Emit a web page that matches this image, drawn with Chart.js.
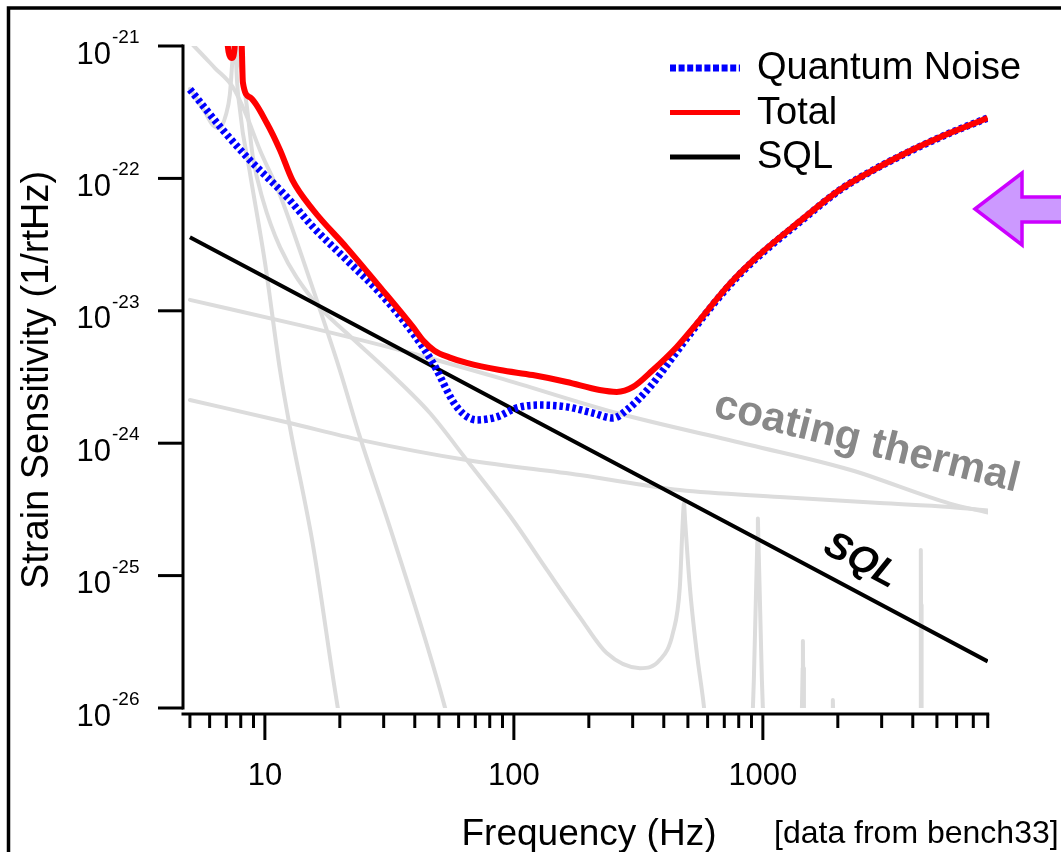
<!DOCTYPE html>
<html>
<head>
<meta charset="utf-8">
<script src="https://cdn.jsdelivr.net/npm/chart.js@4/dist/chart.umd.min.js"></script>
<style>
html,body{margin:0;padding:0;background:#fff;}
#wrap{width:1061px;height:852px;position:relative;overflow:hidden;}
canvas{display:block;}
</style>
</head>
<body>
<div id="wrap"><canvas id="c" width="1061" height="852"></canvas></div>
<script>
// ---------------- data (frequency in Hz, strain in 1/rtHz) ----------------
const quantumFreq  = [5.0, 6.78, 8.47, 12.25, 15.6, 21.3, 29.0, 39.3, 47.3, 59.0, 71.0, 85.5, 102.8, 127, 163, 208, 250, 284, 352, 435, 524, 737, 946, 1408, 2038, 2692, 3788, 5636, 8000];
const quantumNoise = [4.7e-22, 2.32e-22, 1.45e-22, 7.24e-23, 4.3e-23, 2.42e-23, 1.36e-23, 6.8e-24, 4.04e-24, 1.88e-24, 1.5e-24, 1.58e-24, 1.85e-24, 1.94e-24, 1.88e-24, 1.69e-24, 1.55e-24, 1.78e-24, 2.66e-24, 4.48e-24, 7.16e-24, 1.57e-23, 2.51e-23, 4.69e-23, 8.17e-23, 1.12e-22, 1.56e-22, 2.2e-22, 2.86e-22];

const totalFreq  = [6.95, 7.15, 7.36, 7.55, 7.7, 7.95, 8.09, 8.16, 8.71, 10.2, 11.5, 12.9, 15.6, 21.3, 29.0, 39.3, 43.4, 48.0, 55.0, 64.7, 87.9, 119, 163, 221, 259, 301, 362, 451, 524, 737, 946, 1408, 2038, 2692, 3788, 5636, 8000];
const totalNoise = [1.5e-21, 9.0e-22, 8.1e-22, 9.5e-22, 2.5e-21, 2.5e-21, 8.9e-22, 5.3e-22, 4.1e-22, 2.6e-22, 1.64e-22, 9.7e-23, 5.8e-23, 3.0e-23, 1.51e-23, 7.55e-24, 5.9e-24, 5.0e-24, 4.45e-24, 4.04e-24, 3.57e-24, 3.27e-24, 2.9e-24, 2.52e-24, 2.44e-24, 2.66e-24, 3.57e-24, 5.33e-24, 7.4e-24, 1.6e-23, 2.55e-23, 4.75e-23, 8.2e-23, 1.12e-22, 1.57e-22, 2.2e-22, 2.86e-22];

const sqlFreq  = [5, 10, 100, 1000, 8000];
const sqlNoise = [3.6e-23, 1.8e-23, 1.8e-24, 1.8e-25, 2.25e-26];

const seismicFreq  = [5.0, 5.74, 6.18, 6.59, 6.97, 7.23, 7.36, 7.47, 7.55, 7.65, 7.94, 8.71, 10.0, 11.5, 12.6, 15.6, 19.6, 20.2];
const seismicNoise = [4.75e-22, 3.18e-22, 2.53e-22, 2.4e-22, 3.01e-22, 4.26e-22, 6.6e-22, 1.1e-21, 3e-21, 8.55e-22, 3.29e-22, 1.1e-22, 2.34e-23, 3.57e-24, 1.33e-24, 1.7e-25, 1.02e-26, 7.5e-27];

const newtonianFreq  = [5.0, 5.19, 6.30, 7.43, 8.32, 9.55, 11.5, 14.7, 20.0, 24.1, 32.7, 52.8, 54.5];
const newtonianNoise = [1.07e-21, 1.0e-21, 6.82e-22, 4.9e-22, 3.18e-22, 1.64e-22, 7.5e-23, 2.03e-23, 3.57e-24, 1.11e-24, 1.96e-25, 1.02e-26, 8e-27];

const suspFreq  = [7.6, 7.79, 8.09, 8.47, 8.95, 9.82, 11.5, 15.6, 21.3, 30.9, 46.0, 64.7, 99.1, 136, 184, 236, 321, 386, 435, 464, 477, 482, 487, 509, 543, 580, 601];
const suspNoise = [1.3e-21, 8.26e-22, 6.25e-22, 3.46e-22, 1.45e-22, 6.87e-23, 3.03e-23, 1.21e-23, 6.79e-24, 3.57e-24, 1.69e-24, 7.46e-25, 2.63e-25, 1.1e-25, 4.86e-26, 2.6e-26, 2.0e-26, 2.31e-26, 3.68e-26, 8.2e-26, 2.63e-25, 3.53e-25, 2.63e-25, 8.2e-26, 2.6e-26, 1.02e-26, 5e-27];

const coatingFreq  = [5.0, 13.8, 34.8, 87.9, 259, 887, 2234, 5636, 7943];
const coatingNoise = [1.21e-23, 7.8e-24, 5.06e-24, 3.1e-24, 1.69e-24, 9.7e-25, 6.3e-25, 3.5e-25, 3.0e-25];

const substrateFreq  = [5.0, 12.6, 24.1, 64.7, 184, 464, 1169, 2951, 5636, 8017];
const substrateNoise = [2.12e-24, 1.42e-24, 1.06e-24, 7.46e-25, 5.75e-25, 4.43e-25, 3.93e-25, 3.53e-25, 3.3e-25, 3.1e-25];

const mode1Freq  = [880, 912, 920, 937, 950, 955, 960, 973, 991, 1000, 1040];
const mode1Noise = [5e-27, 1e-26, 1.63e-26, 6.5e-26, 1.8e-25, 2.7e-25, 1.8e-25, 6.5e-26, 1.63e-26, 1e-26, 5e-27];
const mode2Freq  = [1420, 1435, 1445, 1448, 1451, 1462, 1475];
const mode2Noise = [8e-27, 1e-26, 2e-26, 3.2e-26, 2e-26, 1e-26, 8e-27];
const mode3Freq  = [1900, 1910, 1920];
const mode3Noise = [8e-27, 1.15e-26, 8e-27];
const mode4Freq  = [4280, 4300, 4312, 4315, 4318, 4330, 4350];
const mode4Noise = [5e-27, 1e-26, 6e-26, 1.56e-25, 6e-26, 1e-26, 5e-27];

// ticks
const xMajorTicks = [10, 100, 1000];
const xMinorTicks = [5, 6, 7, 8, 9, 20, 30, 40, 50, 60, 70, 80, 90, 200, 300, 400, 500, 600, 700, 800, 900, 2000, 3000, 4000, 5000, 6000, 7000, 8000];
const yTicks = [1e-21, 1e-22, 1e-23, 1e-24, 1e-25, 1e-26];

// texts
const xTitle = 'Frequency (Hz)';
const yTitle = 'Strain Sensitivity (1/rtHz)';
const sourceNote = '[data from bench33]';
const coatingLabel = 'coating thermal';
const sqlLabel = 'SQL';

// ---------------------------------------------------------------------------
const FONT = '"Liberation Sans", Arial, Helvetica, sans-serif';
const GRAY = '#dcdcdc';

function pts(f, v) { return f.map((x, i) => ({ x: x, y: v[i] })); }
function grayDs(label, f, v, smooth) {
  return { label: label, data: pts(f, v), borderColor: GRAY, borderWidth: 4,
    pointRadius: 0, cubicInterpolationMode: smooth ? 'monotone' : 'default', tension: 0,
    borderCapStyle: 'round', borderJoinStyle: 'round', order: 5, legend: false };
}

const datasets = [
  { label: 'Total', data: pts(totalFreq, totalNoise), borderColor: '#ff0000', borderWidth: 6,
    pointRadius: 0, cubicInterpolationMode: 'monotone', order: 0, legend: true, legendIndex: 1 },
  { label: 'Quantum Noise', data: pts(quantumFreq, quantumNoise), borderColor: '#0000ff', borderWidth: 7.5,
    borderDash: [3.5, 3], pointRadius: 0, cubicInterpolationMode: 'monotone', order: 1, legend: true, legendIndex: 0 },
  { label: 'SQL', data: pts(sqlFreq, sqlNoise), borderColor: '#000000', borderWidth: 4,
    pointRadius: 0, tension: 0, order: 2, legend: true, legendIndex: 2 },
  grayDs('seismic', seismicFreq, seismicNoise, true),
  grayDs('newtonian', newtonianFreq, newtonianNoise, true),
  grayDs('suspension thermal', suspFreq, suspNoise, true),
  grayDs('coating thermal', coatingFreq, coatingNoise, true),
  grayDs('substrate', substrateFreq, substrateNoise, true),
  grayDs('mode 1', mode1Freq, mode1Noise, false),
  grayDs('mode 2', mode2Freq, mode2Noise, false),
  grayDs('mode 3', mode3Freq, mode3Noise, false),
  grayDs('mode 4', mode4Freq, mode4Noise, false)
];

const decor = {
  id: 'decor',
  beforeDraw(chart) {
    const ctx = chart.ctx;
    ctx.save();
    ctx.fillStyle = '#ffffff';
    ctx.fillRect(0, 0, chart.width, chart.height);
    ctx.restore();
  },
  afterDraw(chart) {
    const ctx = chart.ctx;
    const xs = chart.scales.x, ys = chart.scales.y, ca = chart.chartArea;
    ctx.save();
    // outer frame
    ctx.strokeStyle = '#000'; ctx.lineWidth = 3.5;
    ctx.strokeRect(8.5, 8, 1200, 1000);

    // y axis
    ctx.lineWidth = 3; ctx.lineCap = 'butt';
    const yTop = ys.getPixelForValue(yTicks[0]);
    const yBot = ys.getPixelForValue(yTicks[yTicks.length - 1]);
    ctx.beginPath(); ctx.moveTo(ca.left, yTop - 1.5); ctx.lineTo(ca.left, yBot + 1.5); ctx.stroke();
    ctx.fillStyle = '#000';
    yTicks.forEach(v => {
      const py = ys.getPixelForValue(v);
      ctx.beginPath(); ctx.moveTo(ca.left - 25, py); ctx.lineTo(ca.left, py); ctx.stroke();
      ctx.font = '31px ' + FONT; ctx.textAlign = 'right'; ctx.textBaseline = 'alphabetic';
      ctx.fillText('10', 111, py + 17.5);
      ctx.font = '19px ' + FONT; ctx.textAlign = 'left';
      ctx.fillText(String(Math.round(Math.log10(v))), 112, py - 3);
    });

    // x axis
    const axY = ca.bottom + 6;
    const xEnd = xs.getPixelForValue(xMinorTicks[xMinorTicks.length - 1]);
    ctx.beginPath(); ctx.moveTo(ca.left - 1.5, axY); ctx.lineTo(xEnd + 1.5, axY); ctx.stroke();
    xMinorTicks.forEach(v => {
      const px = xs.getPixelForValue(v);
      ctx.beginPath(); ctx.moveTo(px, axY); ctx.lineTo(px, axY + 14); ctx.stroke();
    });
    ctx.font = '31px ' + FONT; ctx.textAlign = 'center'; ctx.textBaseline = 'alphabetic';
    xMajorTicks.forEach(v => {
      const px = xs.getPixelForValue(v);
      ctx.beginPath(); ctx.moveTo(px, axY); ctx.lineTo(px, axY + 26); ctx.stroke();
      ctx.fillText(String(v), px, 785);
    });

    // titles
    ctx.font = '37px ' + FONT; ctx.textAlign = 'center';
    ctx.fillText(xTitle, 589, 845);
    ctx.save();
    ctx.font = '38px ' + FONT;
    ctx.translate(48, 380); ctx.rotate(-Math.PI / 2);
    ctx.fillText(yTitle, 0, 0);
    ctx.restore();
    ctx.font = '32px ' + FONT; ctx.textAlign = 'left';
    ctx.fillText(sourceNote, 774, 843);

    // annotations
    ctx.save();
    ctx.fillStyle = '#888888'; ctx.font = 'bold 42px ' + FONT; ctx.textAlign = 'center';
    ctx.translate(864, 454); ctx.rotate(14 * Math.PI / 180);
    ctx.fillText(coatingLabel, 0, 0);
    ctx.restore();
    ctx.save();
    ctx.fillStyle = '#000'; ctx.font = 'italic bold 38px ' + FONT; ctx.textAlign = 'center'; ctx.textBaseline = 'middle';
    ctx.translate(861, 561); ctx.rotate(28 * Math.PI / 180);
    ctx.fillText(sqlLabel, 0, 0);
    ctx.restore();

    // legend
    const items = chart.data.datasets.filter(d => d.legend).sort((a, b) => a.legendIndex - b.legendIndex);
    items.forEach((d, i) => {
      const ly = 68 + i * 44.5;
      ctx.save();
      ctx.strokeStyle = d.borderColor;
      ctx.lineWidth = d.borderDash ? 7 : 5;
      ctx.setLineDash(d.borderDash ? [6, 2.6] : []);
      ctx.beginPath(); ctx.moveTo(670, ly); ctx.lineTo(740, ly); ctx.stroke();
      ctx.restore();
      ctx.fillStyle = '#000'; ctx.font = '38px ' + FONT; ctx.textAlign = 'left'; ctx.textBaseline = 'middle';
      ctx.fillText(d.label, 757, ly + 1);
    });

    // purple arrow
    ctx.beginPath();
    ctx.moveTo(975, 209); ctx.lineTo(1022, 173); ctx.lineTo(1022, 197); ctx.lineTo(1080, 197);
    ctx.lineTo(1080, 222); ctx.lineTo(1022, 222); ctx.lineTo(1022, 245); ctx.closePath();
    ctx.fillStyle = '#cc99ff'; ctx.fill();
    ctx.strokeStyle = '#cc00ff'; ctx.lineWidth = 3.5; ctx.lineJoin = 'miter'; ctx.stroke();
    ctx.restore();
  }
};

new Chart(document.getElementById('c'), {
  type: 'line',
  data: { datasets: datasets },
  options: {
    responsive: false,
    animation: false,
    devicePixelRatio: 1,
    layout: { padding: { left: 183, top: 46, right: 73, bottom: 144 } },
    scales: {
      x: { type: 'logarithmic', min: 4.69, max: 8020, display: false },
      y: { type: 'logarithmic', min: 1e-26, max: 1e-21, display: false }
    },
    plugins: { legend: { display: false }, tooltip: { enabled: false } },
    elements: { line: { borderJoinStyle: 'round' } }
  },
  plugins: [decor]
});
</script>
</body>
</html>
